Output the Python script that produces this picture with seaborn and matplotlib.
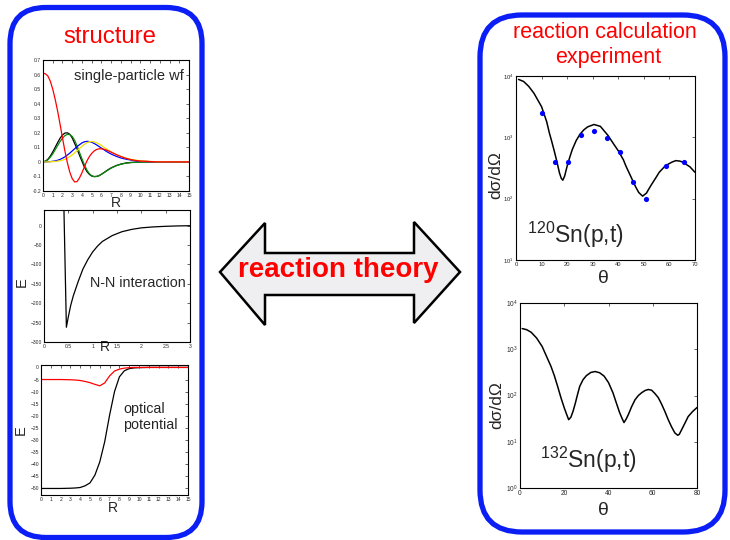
import numpy as np
import pandas as pd
import matplotlib
matplotlib.use("Agg")
import matplotlib.pyplot as plt
from matplotlib.patches import FancyBboxPatch, Polygon
from matplotlib.ticker import NullLocator
import seaborn as sns

# ---------------- data ----------------
# single-particle wave functions
wf_r = [0, .25, .5, .75, 1, 1.25, 1.5, 1.75, 2, 2.25, 2.5, 2.75, 3, 3.25, 3.5, 3.75, 4, 4.25, 4.5,
        4.75, 5, 5.25, 5.5, 5.75, 6, 6.25, 6.5, 6.75, 7, 7.5, 8, 8.5, 9, 9.5, 10, 11, 12, 15]
wf_red = [.61, .605, .59, .555, .50, .43, .35, .26, .165, .075, -.005, -.07, -.115, -.138, -.135,
          -.11, -.075, -.035, .005, .035, .058, .075, .085, .09, .09, .087, .082, .075, .067, .051,
          .037, .025, .016, .01, .006, .002, 0, 0]
wf_black = [0, .005, .018, .04, .068, .1, .132, .162, .185, .198, .2, .19, .165, .127, .09, .045,
            .005, -.035, -.065, -.085, -.097, -.101, -.1, -.095, -.085, -.074, -.062, -.051, -.041,
            -.026, -.015, -.008, -.004, -.002, -.001, 0, 0, 0]
wf_green = [0, .004, .014, .032, .055, .083, .112, .14, .163, .18, .189, .188, .175, .148, .11, .065,
            .022, -.02, -.055, -.08, -.095, -.101, -.1, -.095, -.086, -.075, -.064, -.053, -.043,
            -.027, -.016, -.009, -.005, -.003, -.001, 0, 0, 0]
wf_blue = [0, 0, .001, .002, .004, .007, .011, .017, .025, .035, .047, .06, .075, .09, .105, .118,
           .13, .138, .141, .14, .135, .127, .117, .106, .095, .084, .073, .063, .054, .039, .027,
           .019, .013, .008, .005, .002, .001, 0]
wf_yellow = [0, 0, 0, .001, .002, .003, .005, .008, .012, .018, .026, .036, .048, .062, .077, .092,
             .107, .12, .131, .138, .14, .138, .132, .123, .113, .101, .09, .079, .069, .051, .037,
             .026, .018, .012, .008, .003, .001, 0]
wf_yticks = [-0.2, -0.1, 0, 0.1, 0.2, 0.3, 0.4, 0.5, 0.6, 0.7]
wf_yticklabels = ["-0.2", "-0.1", "0", "0.1", "0.2", "0.3", "0.4", "0.5", "0.6", "0.7"]
r15_ticks = list(range(0, 16))

# N-N interaction
nn_r = [0.41, 0.46, 0.5, 0.55, 0.6, 0.7, 0.8, 0.9, 1.0, 1.1, 1.2, 1.4, 1.6, 1.8, 2.0, 2.25, 2.5, 2.75, 3.0]
nn_e = [40, -262, -235, -205, -182, -145, -112, -88, -68, -53, -41, -26, -16, -10, -6, -3.5, -2, -1, -0.5]
nn_xticks = [0, 0.5, 1, 1.5, 2, 2.5, 3]
nn_xticklabels = ["0", "0.5", "1", "1.5", "2", "2.5", "3"]
nn_yticks = [0, -50, -100, -150, -200, -250, -300]

# optical potential
op_r = [0, 1, 2, 3, 3.5, 4, 4.5, 5, 5.5, 6, 6.5, 7, 7.5, 8, 8.5, 9, 9.5, 10, 11, 12, 15]
op_real = [-50, -50, -50, -49.9, -49.8, -49.6, -48.9, -47.7, -44.5, -39, -30.7, -19.7, -10, -3.9,
           -1.4, -0.5, -0.2, -0.1, 0, 0, 0]
op_imag = [-5, -5, -5, -5.1, -5.2, -5.4, -5.8, -6.3, -7.0, -7.6, -6.4, -3.5, -1.5, -0.7, -0.3,
           -0.1, 0, 0, 0, 0, 0]
op_yticks = [0, -5, -10, -15, -20, -25, -30, -35, -40, -45, -50]

# 120Sn(p,t)
sn120_theta = [1, 3, 5, 7, 10, 12, 13, 14, 15, 16, 17, 17.7, 18.3, 19, 20, 21, 22, 23.5, 25, 26.5,
               28, 30.5, 33, 36, 38, 40, 42, 43, 45, 46, 47, 48, 49.5, 51, 52, 53, 55, 56, 58, 59,
               61, 62.5, 64, 65, 68, 70]
sn120_calc = [8800, 8130, 6760, 5250, 3160, 1800, 1200, 850, 590, 400, 263, 215, 200, 232, 339, 470,
              631, 880, 1120, 1320, 1480, 1620, 1510, 1070, 800, 603, 430, 339, 225, 182, 150, 126,
              110, 123, 145, 170, 230, 269, 330, 355, 395, 417, 410, 398, 331, 269]
sn120_exp_theta = [10.0, 15.2, 20.3, 25.4, 30.5, 35.5, 40.7, 45.8, 50.8, 58.5, 65.8]
sn120_exp = [2520, 400, 390, 1090, 1290, 990, 570, 189, 98, 340, 400]

# 132Sn(p,t)
sn132_theta = [1, 3, 5, 7.5, 10, 12, 14, 15.5, 17, 18.5, 20, 21, 22, 23, 24, 25, 26, 27, 28.5, 30,
               32, 34, 36, 38, 40, 42, 43.5, 45, 46, 47, 48, 49, 50.5, 52, 53.5, 55, 56.5, 58, 59.5,
               61, 62.5, 64, 65.5, 67, 68.5, 70, 71.3, 72, 73, 74.5, 76, 78, 80]
sn132_calc = [2800, 2650, 2340, 1750, 1150, 700, 427, 270, 158, 90, 54, 40, 30, 34, 46, 68, 105,
              158, 220, 269, 315, 330, 310, 263, 190, 115, 70, 43, 33, 26, 31, 39, 58, 81, 100,
              115, 128, 135, 130, 110, 90, 65, 45, 30, 21, 15.5, 13.8, 14.5, 18, 25, 35, 45, 55]

log_ticks_120 = [10, 100, 1000, 10000]
log_ticks_132 = [1, 10, 100, 1000, 10000]

# ---------------- style ----------------
sns.set_style("white")
plt.rcParams["font.family"] = ["Liberation Sans", "DejaVu Sans"]
plt.rcParams["mathtext.fontset"] = "custom"
plt.rcParams["mathtext.rm"] = "Liberation Sans"
plt.rcParams["mathtext.it"] = "Liberation Sans:italic"
plt.rcParams["mathtext.bf"] = "Liberation Sans:bold"

fig = plt.figure(figsize=(7.3, 5.4), dpi=100)
W, H = 730, 540

# overlay axes in pixel coordinates for boxes, arrow and titles
ov = fig.add_axes([0, 0, 1, 1], zorder=0)
ov.set_xlim(0, W)
ov.set_ylim(H, 0)
ov.axis("off")
ov.patch.set_alpha(0)

blue = "#0a1ef5"
left_box = FancyBboxPatch((10 + 36, 7.5 + 36), 192 - 72, 530 - 72,
                          boxstyle="round,pad=36", fc="none", ec=blue, lw=3.8)
right_box = FancyBboxPatch((480 + 42, 15 + 42), 245 - 84, 517 - 84,
                           boxstyle="round,pad=42", fc="none", ec=blue, lw=3.8)
ov.add_patch(left_box)
ov.add_patch(right_box)

arrow_pts = [(220, 272), (265, 223), (265, 253), (414, 253), (414, 222), (460, 272),
             (414, 323), (414, 295), (265, 295), (265, 325)]
ov.add_patch(Polygon(arrow_pts, closed=True, fc="#efeff2", ec="black", lw=1.8, joinstyle="miter"))
ov.text(338, 270, "reaction theory", color="red", fontsize=20, fontweight="bold",
        ha="center", va="center")
ov.text(110, 37, "structure", color="red", fontsize=17.3, ha="center", va="center")
ov.text(605, 33, "reaction calculation", color="red", fontsize=15.5, ha="center", va="center")
ov.text(608, 58, "experiment", color="red", fontsize=15.5, ha="center", va="center")


def px_axes(x0, y0, x1, y1):
    return fig.add_axes([x0 / W, 1 - y1 / H, (x1 - x0) / W, (y1 - y0) / H], zorder=1)


def style_small(ax, fs=3.6):
    ax.tick_params(direction="in", top=True, right=True, length=2, width=0.5,
                   labelsize=fs, pad=1.5)
    for s in ax.spines.values():
        s.set_linewidth(0.8)
        s.set_color("black")


# --- panel L1: single-particle wf
ax1 = px_axes(43, 60, 189, 191)
for yv, c in [(wf_black, "black"), (wf_green, "#0a8a0a"), (wf_blue, "blue"),
              (wf_yellow, "#f0e000"), (wf_red, "red")]:
    sns.lineplot(x=wf_r, y=yv, ax=ax1, color=c, linewidth=0.9, estimator=None, sort=False)
ax1.set_xlim(0, 15)
ax1.set_ylim(-0.2, 0.7)
ax1.set_xticks(r15_ticks)
ax1.set_yticks(wf_yticks)
ax1.set_yticklabels(wf_yticklabels)
style_small(ax1)
ax1.set_xlabel("R", fontsize=10)
ax1.xaxis.set_label_coords(0.5, -0.092)
ax1.text(0.965, 0.875, "single-particle wf", transform=ax1.transAxes, fontsize=10.5,
         ha="right", va="center")

# --- panel L2: N-N interaction
ax2 = px_axes(44, 210, 190, 342)
sns.lineplot(x=nn_r, y=nn_e, ax=ax2, color="black", linewidth=0.9, estimator=None, sort=False)
ax2.set_xlim(0, 3)
ax2.set_ylim(-300, 40)
ax2.set_xticks(nn_xticks)
ax2.set_xticklabels(nn_xticklabels)
ax2.set_yticks(nn_yticks)
style_small(ax2)
ax2.set_xlabel("R", fontsize=10)
ax2.xaxis.set_label_coords(0.42, -0.035)
ax2.set_ylabel("E", fontsize=10.5)
ax2.yaxis.set_label_coords(-0.15, 0.45)
ax2.text(0.97, 0.447, "N-N interaction", transform=ax2.transAxes, fontsize=10.3,
         ha="right", va="center")

# --- panel L3: optical potential
ax3 = px_axes(41, 365, 188, 495)
sns.lineplot(x=op_r, y=op_real, ax=ax3, color="black", linewidth=0.9, estimator=None, sort=False)
sns.lineplot(x=op_r, y=op_imag, ax=ax3, color="red", linewidth=0.9, estimator=None, sort=False)
ax3.set_xlim(0, 15)
ax3.set_ylim(-52.7, 1)
ax3.set_xticks(r15_ticks)
ax3.set_yticks(op_yticks)
style_small(ax3)
ax3.set_xlabel("R", fontsize=10)
ax3.xaxis.set_label_coords(0.49, -0.1)
ax3.set_ylabel("E", fontsize=10.5)
ax3.yaxis.set_label_coords(-0.14, 0.5)
ax3.text(0.558, 0.6, "optical\npotential", transform=ax3.transAxes, fontsize=10.3,
         ha="left", va="center", linespacing=1.25)

# --- panel R1: 120Sn(p,t)
ax4 = px_axes(516, 76, 695, 260)
sns.lineplot(x=sn120_theta, y=sn120_calc, ax=ax4, color="black", linewidth=1.1,
             estimator=None, sort=False)
sns.scatterplot(x=sn120_exp_theta, y=sn120_exp, ax=ax4, color="blue", s=14, linewidth=0,
                zorder=3)
ax4.set_yscale("log")
ax4.set_xlim(0, 70)
ax4.set_ylim(10, 10000)
ax4.set_xticks(list(range(0, 71, 10)))
ax4.set_yticks(log_ticks_120)
ax4.yaxis.set_minor_locator(NullLocator())
style_small(ax4, fs=4.2)
ax4.set_xlabel("θ", fontsize=14)
ax4.xaxis.set_label_coords(0.486, -0.1)
ax4.set_ylabel("dσ/dΩ", fontsize=12.5)
ax4.yaxis.set_label_coords(-0.115, 0.46)
ax4.text(0.06, 0.135, r"$^{\mathregular{120}}$Sn(p,t)", transform=ax4.transAxes,
         fontsize=16.5, ha="left", va="center")

# --- panel R2: 132Sn(p,t)
ax5 = px_axes(520, 303, 697, 488)
sns.lineplot(x=sn132_theta, y=sn132_calc, ax=ax5, color="black", linewidth=1.1,
             estimator=None, sort=False)
ax5.set_yscale("log")
ax5.set_xlim(0, 80)
ax5.set_ylim(1, 10000)
ax5.set_xticks(list(range(0, 81, 20)))
ax5.set_yticks(log_ticks_132)
ax5.yaxis.set_minor_locator(NullLocator())
style_small(ax5, fs=4.8)
ax5.set_xlabel("θ", fontsize=14)
ax5.xaxis.set_label_coords(0.47, -0.12)
ax5.set_ylabel("dσ/dΩ", fontsize=12.5)
ax5.yaxis.set_label_coords(-0.13, 0.45)
ax5.text(0.113, 0.15, r"$^{\mathregular{132}}$Sn(p,t)", transform=ax5.transAxes,
         fontsize=16.5, ha="left", va="center")

for a in (ax1, ax2, ax3, ax4, ax5):
    a.xaxis.label.set_verticalalignment("center")
    a.yaxis.label.set_verticalalignment("center")

fig.savefig("out.png", dpi=100)
